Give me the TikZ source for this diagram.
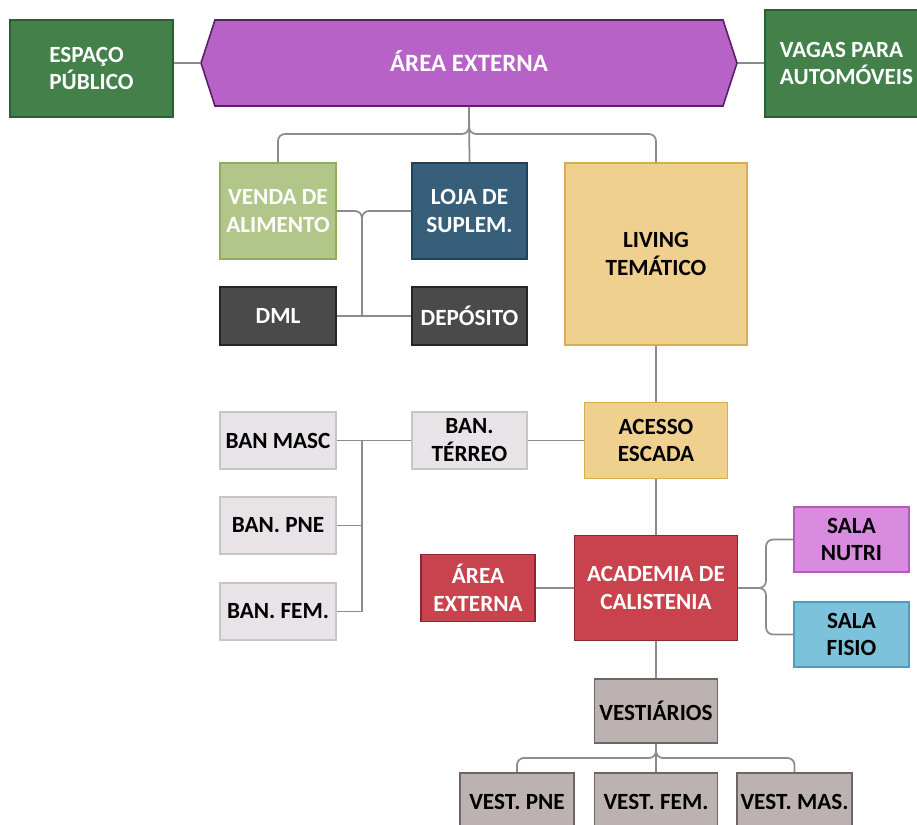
\documentclass[tikz,border=0pt]{standalone}
\usepackage{fontspec}
\setmainfont{Carlito}
\usepackage{xcolor}
\usetikzlibrary{
    shapes.symbols,
    calc,
    positioning
}

% colours of the boxes
\definecolor{pubgreen}{HTML}{43804A}
\definecolor{pubgreenline}{HTML}{2E5E33}
\definecolor{extpurple}{HTML}{B762C6}
\definecolor{extpurpleline}{HTML}{5A1F66}
\definecolor{foodgreen}{HTML}{B3C68A}
\definecolor{foodgreenline}{HTML}{8FAE55}
\definecolor{shopblue}{HTML}{385F7A}
\definecolor{shopblueline}{HTML}{23425A}
\definecolor{darkbox}{HTML}{4A4A4A}
\definecolor{darkboxline}{HTML}{262626}
\definecolor{livingyellow}{HTML}{EFD08F}
\definecolor{livingyellowline}{HTML}{D6AE4F}
\definecolor{bathgray}{HTML}{E7E3E6}
\definecolor{bathgrayline}{HTML}{C6C6C6}
\definecolor{gymred}{HTML}{C9434E}
\definecolor{gymredline}{HTML}{8E2630}
\definecolor{nutripink}{HTML}{D98BE0}
\definecolor{nutripinkline}{HTML}{B15DBC}
\definecolor{fisioblue}{HTML}{7DC2DB}
\definecolor{fisioblueline}{HTML}{4E9DBE}
\definecolor{vestgray}{HTML}{BCB2B1}
\definecolor{vestgrayline}{HTML}{6E6666}
\definecolor{linkgray}{HTML}{8C8C8C}

\newcommand\boxfont{\fontsize{13.2}{15.9}\selectfont\bfseries}
\newcommand\bigboxfont{\fontsize{14.2}{17}\selectfont\bfseries}

\begin{document}
\begin{tikzpicture}[x=0.02cm, y=-0.02cm]
  \useasboundingbox (0,0) rectangle (917,825);

  % Styles for boxes and connectors
  \tikzset{
    box/.style={draw, rectangle, line width=0.9pt, inner sep=2pt, align=center, font=\boxfont},
    sz/.style 2 args={minimum width=#1*0.02cm, minimum height=#2*0.02cm},
    public/.style={box, fill=pubgreen, draw=pubgreenline, text=white, align=left},
    food/.style={box, fill=foodgreen, draw=foodgreenline, text=white},
    shop/.style={box, fill=shopblue, draw=shopblueline, text=white},
    darkroom/.style={box, fill=darkbox, draw=darkboxline, text=white},
    living/.style={box, fill=livingyellow, draw=livingyellowline, text=black},
    bath/.style={box, fill=bathgray, draw=bathgrayline, text=black},
    gym/.style={box, fill=gymred, draw=gymredline, text=white},
    nutriroom/.style={box, fill=nutripink, draw=nutripinkline, text=black},
    fisioroom/.style={box, fill=fisioblue, draw=fisioblueline, text=black},
    vest/.style={box, fill=vestgray, draw=vestgrayline, text=black},
    link/.style={draw=linkgray, line width=1pt},
    curved/.style={link, rounded corners=4pt}
  }

  % Top row
  \node[public, sz={163}{97}] (espaco) at (91.5,68.5) {ESPAÇO\\PÚBLICO};
  \node[draw=extpurpleline, fill=extpurple, line width=0.9pt, text=white, font=\bigboxfont,
        shape=signal, signal to=west and east, signal pointer angle=144,
        sz={536}{86}, inner sep=0pt] (area) at (469,63) {\raisebox{2pt}{ÁREA EXTERNA}};
  \node[public, sz={163}{107}] (vagas) at (846.5,63.5) {VAGAS PARA\\AUTOMÓVEIS};

  % Ground floor: shops and service rooms
  \node[food, sz={116}{96}] (venda) at (278,211) {VENDA DE\\ALIMENTO};
  \node[shop, sz={115}{96}] (loja) at (469.5,211) {LOJA DE\\SUPLEM.};
  \node[living, sz={182}{182}] (living) at (656,254) {LIVING\\TEMÁTICO};
  \node[darkroom, sz={116}{58}] (dml) at (278,316) {DML};
  \node[darkroom, sz={115}{58}] (deposito) at (469.5,316) {DEPÓSITO};

  % Bathrooms and stairs
  \node[bath, sz={116}{57}] (banmasc) at (278,440.5) {BAN MASC};
  \node[bath, sz={116}{57}] (banpne) at (278,525.5) {BAN. PNE};
  \node[bath, sz={116}{57}] (banfem) at (278,611.5) {BAN. FEM.};
  \node[bath, sz={115}{57}] (banterreo) at (469.5,440.5) {BAN.\\TÉRREO};
  \node[living, sz={143}{76}] (acesso) at (656,440.5) {ACESSO\\ESCADA};

  % Gym floor
  \node[gym, sz={163}{105}] (academia) at (656,588) {ACADEMIA DE\\CALISTENIA};
  \node[gym, sz={114}{67}] (areaext) at (478,588) {ÁREA\\EXTERNA};
  \node[nutriroom, sz={115}{65}] (nutri) at (851.5,539.5) {SALA\\NUTRI};
  \node[fisioroom, sz={115}{65}] (fisio) at (851.5,634.5) {SALA\\FISIO};

  % Changing rooms
  \node[vest, sz={123}{64}] (vestiarios) at (656,711) {VESTIÁRIOS};
  \node[vest, sz={114}{57}] (vpne) at (517,801.5) {VEST. PNE};
  \node[vest, sz={123}{57}] (vfem) at (656,801.5) {VEST. FEM.};
  \node[vest, sz={115}{57}] (vmas) at (794.5,801.5) {VEST. MAS.};

  % Junction points of the connectors
  \coordinate (topbus) at (469,134);
  \coordinate (dbus) at (362,316);
  \coordinate (bbus) at (362,440.5);
  \coordinate (sbus) at (766,588);
  \coordinate (vbus) at (656,758);

  % Connectors
  \draw[link] (area.west) -- (area.west -| espaco.east);
  \draw[link] (area.east) -- (area.east -| vagas.west);
  \draw[link] (area.south) -- (loja.north);
  \draw[curved] (area.south) -- (topbus) -| (venda.north);
  \draw[curved] (area.south) -- (topbus) -| (living.north);
  \draw[curved] (venda.east) -| (dbus);
  \draw[curved] (loja.west) -| (dbus);
  \draw[link] (dml.east) -- (deposito.west);
  \draw[link] (living.south) -- (acesso.north);
  \draw[link] (acesso.west) -- (banterreo.east);
  \draw[link] (banterreo.west) -- (banmasc.east);
  \draw[link] (banfem.east) -| (bbus);
  \draw[link] (banpne.east) -- (banpne.east -| bbus);
  \draw[link] (acesso.south) -- (academia.north);
  \draw[link] (areaext.east) -- (academia.west);
  \draw[curved] (academia.east) -- (sbus) |- (nutri.west);
  \draw[curved] (academia.east) -- (sbus) |- (fisio.west);
  \draw[link] (academia.south) -- (vestiarios.north);
  \draw[link] (vestiarios.south) -- (vfem.north);
  \draw[curved] (vestiarios.south) -- (vbus) -| (vpne.north);
  \draw[curved] (vestiarios.south) -- (vbus) -| (vmas.north);
\end{tikzpicture}
\end{document}
